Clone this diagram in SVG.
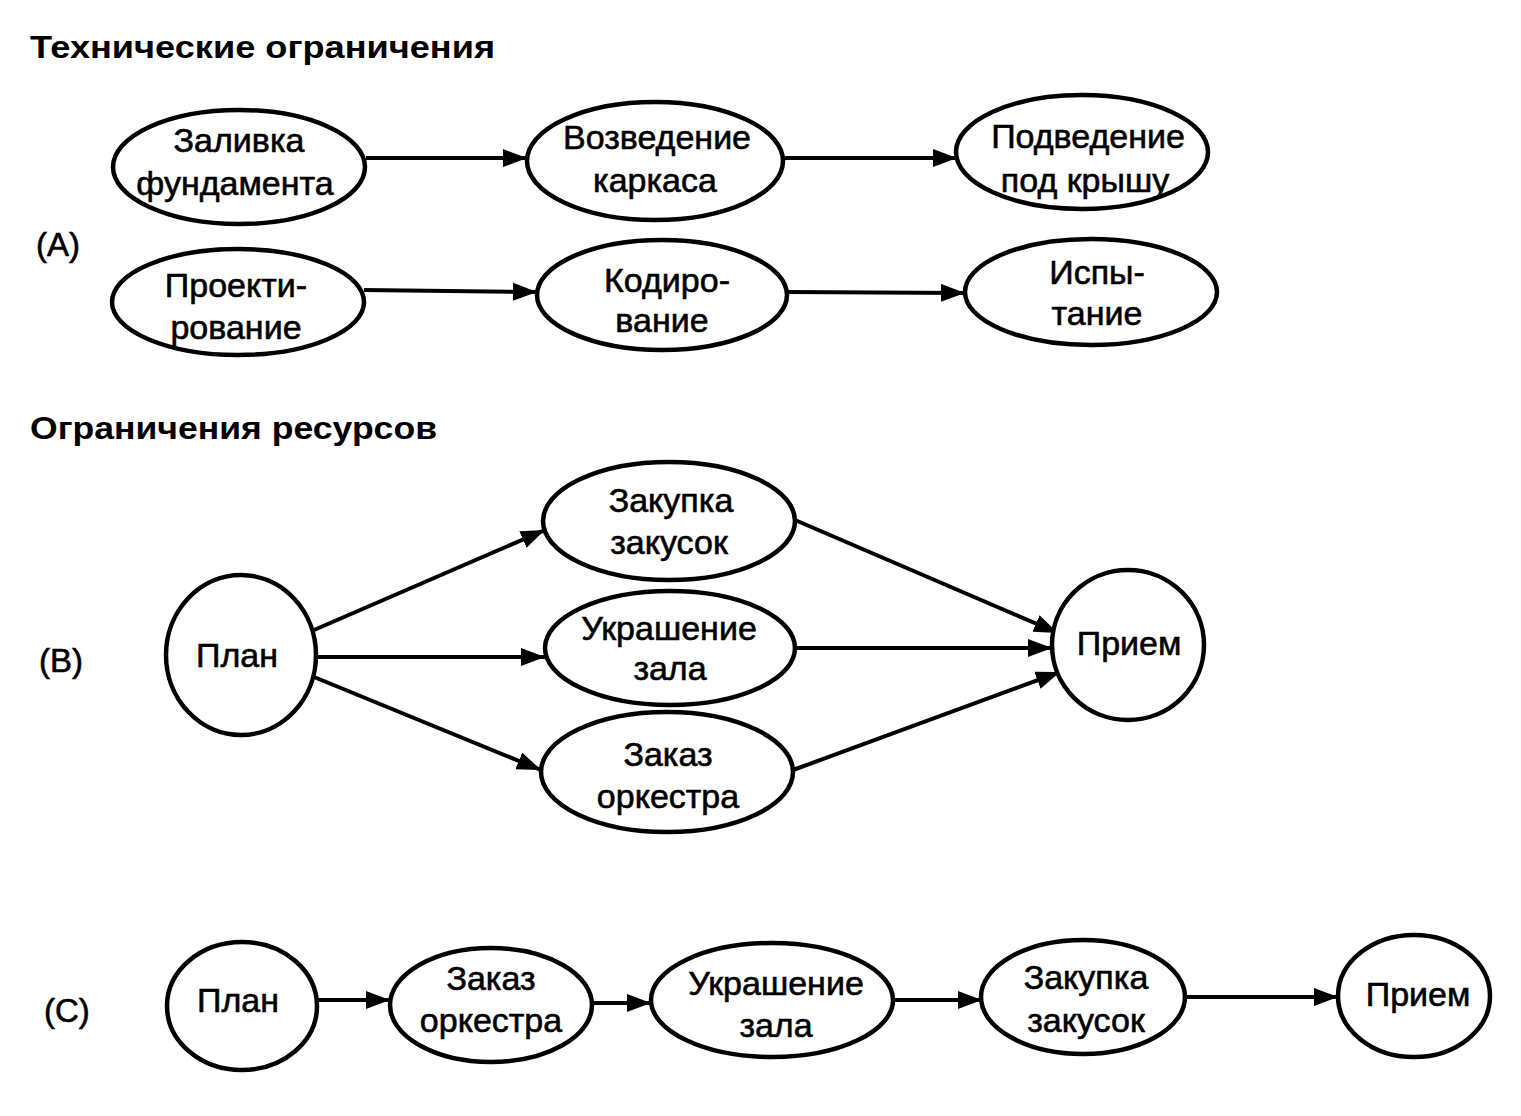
<svg xmlns="http://www.w3.org/2000/svg" width="1521" height="1116" viewBox="0 0 1521 1116">
<defs>
<marker id="ah" markerUnits="userSpaceOnUse" markerWidth="26" markerHeight="20" refX="24" refY="9" orient="auto">
<path d="M0,0 L24,9 L0,18 z" fill="#000"/>
</marker>
<style>
.n{fill:#fff;stroke:#000;stroke-width:4.5}
.t{font-family:"Liberation Sans","Arial",sans-serif;font-size:34px;text-anchor:middle;fill:#000;stroke:#000;stroke-width:0.6}
.h{font-family:"Liberation Sans","Arial",sans-serif;font-size:32px;font-weight:bold;fill:#000}
.l{font-family:"Liberation Sans","Arial",sans-serif;font-size:33px;fill:#000;stroke:#000;stroke-width:0.6}
.e{stroke:#000;stroke-width:4;fill:none;marker-end:url(#ah)}
</style>
</defs>
<rect width="1521" height="1116" fill="#fff"/>
<text class="h" x="30" y="58" textLength="465" lengthAdjust="spacingAndGlyphs">Технические ограничения</text>
<text class="h" x="30" y="439" textLength="407" lengthAdjust="spacingAndGlyphs">Ограничения ресурсов</text>
<text class="l" x="36" y="256">(A)</text>
<text class="l" x="39" y="672">(B)</text>
<text class="l" x="44" y="1022">(C)</text>
<g id="connectors">
<line class="e" x1="366" y1="158" x2="527" y2="158"/>
<line class="e" x1="783" y1="158" x2="957" y2="158"/>
<line class="e" x1="364" y1="290" x2="537" y2="292"/>
<line class="e" x1="788" y1="292" x2="965" y2="293"/>
<line class="e" x1="314" y1="630" x2="545" y2="530"/>
<line class="e" x1="316" y1="657" x2="545" y2="657"/>
<line class="e" x1="314" y1="677" x2="541" y2="770"/>
<line class="e" x1="795" y1="520" x2="1058" y2="633"/>
<line class="e" x1="795" y1="648" x2="1052" y2="648"/>
<line class="e" x1="793" y1="770" x2="1060" y2="672"/>
<line class="e" x1="318" y1="1000" x2="390" y2="1000"/>
<line class="e" x1="592" y1="1003" x2="651" y2="1003"/>
<line class="e" x1="893" y1="1000" x2="982" y2="1000"/>
<line class="e" x1="1185" y1="997" x2="1338" y2="997"/>
</g>
<g id="a1"><ellipse class="n" cx="239" cy="167" rx="126" ry="57"/><text class="t" x="239" y="152">Заливка</text><text class="t" x="235" y="195">фундамента</text></g>
<g id="a2"><ellipse class="n" cx="655" cy="161" rx="128" ry="59"/><text class="t" x="657" y="149">Возведение</text><text class="t" x="655" y="192">каркаса</text></g>
<g id="a3"><ellipse class="n" cx="1082" cy="152" rx="126" ry="57"/><text class="t" x="1088" y="148">Подведение</text><text class="t" x="1085" y="192">под крышу</text></g>
<g id="a4"><ellipse class="n" cx="238" cy="302" rx="126" ry="53"/><text class="t" x="236" y="297">Проекти-</text><text class="t" x="236" y="339">рование</text></g>
<g id="a5"><ellipse class="n" cx="662" cy="295" rx="125" ry="55"/><text class="t" x="667" y="292">Кодиро-</text><text class="t" x="662" y="332">вание</text></g>
<g id="a6"><ellipse class="n" cx="1091" cy="292" rx="126" ry="53"/><text class="t" x="1097" y="284">Испы-</text><text class="t" x="1097" y="325">тание</text></g>
<g id="b1"><ellipse class="n" cx="241" cy="655" rx="75" ry="80"/><text class="t" x="237" y="667">План</text></g>
<g id="b2"><ellipse class="n" cx="669" cy="521" rx="126" ry="59"/><text class="t" x="671" y="512">Закупка</text><text class="t" x="669" y="554">закусок</text></g>
<g id="b3"><ellipse class="n" cx="670" cy="648" rx="125" ry="57"/><text class="t" x="669" y="640">Украшение</text><text class="t" x="670" y="680">зала</text></g>
<g id="b4"><ellipse class="n" cx="667" cy="772" rx="126" ry="60"/><text class="t" x="668" y="766">Заказ</text><text class="t" x="668" y="808">оркестра</text></g>
<g id="b5"><ellipse class="n" cx="1128" cy="645" rx="76" ry="75"/><text class="t" x="1129" y="655">Прием</text></g>
<g id="c1"><ellipse class="n" cx="242" cy="1006" rx="75" ry="64"/><text class="t" x="238" y="1012">План</text></g>
<g id="c2"><ellipse class="n" cx="491" cy="1005" rx="101" ry="57"/><text class="t" x="491" y="990">Заказ</text><text class="t" x="491" y="1032">оркестра</text></g>
<g id="c3"><ellipse class="n" cx="772" cy="1000" rx="121" ry="57"/><text class="t" x="776" y="995">Украшение</text><text class="t" x="776" y="1037">зала</text></g>
<g id="c4"><ellipse class="n" cx="1083" cy="997" rx="102" ry="57"/><text class="t" x="1086" y="989">Закупка</text><text class="t" x="1086" y="1032">закусок</text></g>
<g id="c5"><ellipse class="n" cx="1414" cy="996" rx="76" ry="61"/><text class="t" x="1418" y="1006">Прием</text></g>
</svg>
